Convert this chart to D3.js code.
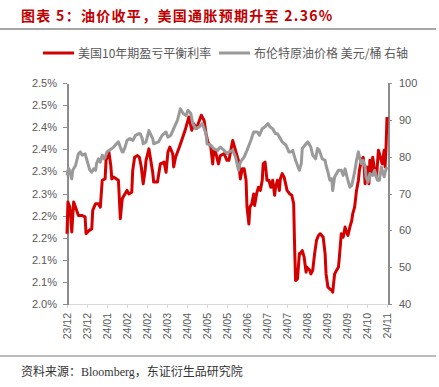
<!DOCTYPE html>
<html lang="zh">
<head>
    <meta charset="utf-8">
    <title>美国通胀预期</title>
    <script src="https://d3js.org/d3.v7.min.js"></script>
    <style>
        html, body {
            margin: 0;
            padding: 0;
            background: #fff;
        }
        text {
            font-family: "Liberation Sans", Arial, "Noto Sans CJK SC", sans-serif;
        }
        .axis text {
            fill: #595959;
            font-size: 11px;
        }
        .axis path, .axis line {
            shape-rendering: crispEdges;
        }
        path.line {
            fill: none;
            stroke-width: 3px;
            stroke-linejoin: round;
        }
    </style>
</head>
<body>
<script type="text/javascript">

    // breakeven 10y (left axis, %)
    var beDates = ["2023-12-06","2023-12-07","2023-12-09","2023-12-11","2023-12-13","2023-12-15","2023-12-18","2023-12-22","2023-12-25","2023-12-26","2023-12-29",
        "2024-01-01","2024-01-02","2024-01-05","2024-01-08","2024-01-10","2024-01-12","2024-01-15","2024-01-16","2024-01-19","2024-01-21","2024-01-22","2024-01-24","2024-01-27","2024-01-29","2024-01-31",
        "2024-02-02","2024-02-04","2024-02-07","2024-02-09","2024-02-12","2024-02-13","2024-02-15","2024-02-18","2024-02-20","2024-02-22","2024-02-24","2024-02-26","2024-02-27",
        "2024-03-01","2024-03-05","2024-03-06","2024-03-10","2024-03-13","2024-03-17","2024-03-19","2024-03-21","2024-03-23","2024-03-26","2024-03-27","2024-03-29",
        "2024-04-02","2024-04-05","2024-04-08","2024-04-10","2024-04-12","2024-04-15","2024-04-17","2024-04-20","2024-04-23","2024-04-25","2024-04-28","2024-04-30",
        "2024-05-02","2024-05-05","2024-05-07","2024-05-08","2024-05-10","2024-05-13","2024-05-15","2024-05-19","2024-05-22","2024-05-24","2024-05-28","2024-05-31",
        "2024-06-03","2024-06-05","2024-06-07","2024-06-09","2024-06-11","2024-06-12","2024-06-14","2024-06-15","2024-06-17","2024-06-19","2024-06-20","2024-06-22","2024-06-24","2024-06-26","2024-06-28","2024-06-29",
        "2024-07-01","2024-07-03","2024-07-05","2024-07-07","2024-07-09","2024-07-11","2024-07-12","2024-07-14","2024-07-16","2024-07-17","2024-07-19","2024-07-21","2024-07-23","2024-07-24","2024-07-27","2024-07-29","2024-07-31",
        "2024-08-01","2024-08-02","2024-08-04","2024-08-06","2024-08-07","2024-08-09","2024-08-11","2024-08-13","2024-08-14","2024-08-17","2024-08-18","2024-08-20","2024-08-22","2024-08-24","2024-08-26","2024-08-28","2024-08-31",
        "2024-09-02","2024-09-03","2024-09-05","2024-09-07","2024-09-09","2024-09-10","2024-09-12","2024-09-14","2024-09-16","2024-09-17","2024-09-19","2024-09-21","2024-09-23","2024-09-24","2024-09-26","2024-09-28","2024-09-30",
        "2024-10-01","2024-10-03","2024-10-05","2024-10-07","2024-10-08","2024-10-10","2024-10-12","2024-10-13","2024-10-14","2024-10-16","2024-10-18","2024-10-19","2024-10-21","2024-10-22","2024-10-24","2024-10-26","2024-10-28","2024-10-30",
        "2024-11-01","2024-11-03","2024-11-04","2024-11-05","2024-11-06"];
    var beValues = [2.159,2.231,2.219,2.163,2.231,2.219,2.200,2.200,2.197,2.159,2.166,
        2.170,2.212,2.227,2.227,2.219,2.280,2.283,2.325,2.344,2.313,2.283,2.287,2.283,2.280,2.193,
        2.238,2.246,2.257,2.249,2.253,2.302,2.332,2.336,2.332,2.310,2.272,2.302,2.325,
        2.351,2.298,2.276,2.276,2.317,2.321,2.298,2.344,2.355,2.340,2.310,2.332,
        2.355,2.374,2.393,2.408,2.423,2.393,2.408,2.397,2.415,2.427,2.415,2.385,
        2.366,2.355,2.317,2.347,2.344,2.317,2.336,2.340,2.325,2.325,2.370,2.347,
        2.325,2.283,2.306,2.306,2.280,2.219,2.181,2.219,2.227,2.249,2.223,2.249,2.264,2.257,2.280,2.317,
        2.321,2.280,2.280,2.264,2.280,2.246,2.264,2.280,2.257,2.283,2.295,2.287,2.268,2.257,2.249,2.246,2.227,
        2.129,2.053,2.057,2.114,2.114,2.121,2.106,2.072,2.083,2.076,2.068,2.076,2.114,2.144,2.155,2.159,2.151,
        2.114,2.068,2.038,2.034,2.031,2.027,2.068,2.076,2.083,2.106,2.159,2.151,2.174,2.166,2.155,2.174,2.189,
        2.204,2.219,2.257,2.280,2.302,2.325,2.332,2.310,2.272,2.310,2.272,2.325,2.295,2.332,2.302,2.287,2.348,2.332,
        2.317,2.348,2.310,2.355,2.423];

    // brent (right axis, USD/bbl)
    var brentDates = ["2023-12-06","2023-12-07","2023-12-08","2023-12-11","2023-12-12","2023-12-15","2023-12-18","2023-12-20","2023-12-22","2023-12-25","2023-12-28","2023-12-30",
        "2024-01-01","2024-01-03","2024-01-05","2024-01-06","2024-01-08","2024-01-10","2024-01-12","2024-01-14","2024-01-15","2024-01-17","2024-01-19","2024-01-22","2024-01-24","2024-01-27","2024-01-29","2024-01-31",
        "2024-02-02","2024-02-03","2024-02-05","2024-02-07","2024-02-10","2024-02-13","2024-02-16","2024-02-19","2024-02-21","2024-02-23","2024-02-24","2024-02-27",
        "2024-03-01","2024-03-05","2024-03-06","2024-03-11","2024-03-15","2024-03-19","2024-03-21","2024-03-24","2024-03-27","2024-03-31",
        "2024-04-03","2024-04-06","2024-04-09","2024-04-11","2024-04-14","2024-04-16","2024-04-19","2024-04-23","2024-04-26","2024-04-30",
        "2024-05-01","2024-05-05","2024-05-08","2024-05-12","2024-05-15","2024-05-19","2024-05-22","2024-05-24","2024-05-28","2024-05-31",
        "2024-06-03","2024-06-05","2024-06-09","2024-06-12","2024-06-16","2024-06-19","2024-06-23","2024-06-25","2024-06-28",
        "2024-07-01","2024-07-04","2024-07-06","2024-07-09","2024-07-12","2024-07-14","2024-07-17","2024-07-19","2024-07-23","2024-07-26","2024-07-28","2024-07-30",
        "2024-08-02","2024-08-04","2024-08-06","2024-08-08","2024-08-09","2024-08-13","2024-08-15","2024-08-18","2024-08-20","2024-08-23","2024-08-25","2024-08-27","2024-08-30",
        "2024-09-02","2024-09-03","2024-09-05","2024-09-07","2024-09-09","2024-09-10","2024-09-12","2024-09-16","2024-09-19","2024-09-21","2024-09-23","2024-09-25","2024-09-28","2024-09-30",
        "2024-10-03","2024-10-05","2024-10-07","2024-10-08","2024-10-10","2024-10-12","2024-10-14","2024-10-15","2024-10-17","2024-10-19","2024-10-22","2024-10-24","2024-10-27","2024-10-29","2024-10-31",
        "2024-11-03","2024-11-04","2024-11-06"];
    var brentValues = [74.9,76.3,76.7,74.0,76.3,77.6,80.8,81.3,80.4,80.8,78.1,76.3,
        75.8,76.7,76.3,78.1,79.4,78.5,80.4,79.4,79.9,81.3,81.7,82.2,82.6,83.5,84.0,82.6,
        81.3,81.3,82.6,84.4,84.9,84.4,85.8,86.2,86.2,84.9,83.5,84.0,
        87.1,84.9,83.5,84.0,85.8,86.7,85.3,85.8,87.6,89.9,
        93.0,91.7,91.2,92.6,91.7,89.0,87.6,88.1,89.0,86.2,
        83.5,83.1,82.2,81.7,82.6,81.7,80.8,81.3,81.7,79.9,
        76.3,78.5,79.9,81.7,84.4,86.7,86.7,85.8,87.6,
        88.1,89.0,88.1,87.6,86.2,86.2,84.9,84.0,83.1,81.3,81.3,81.7,
        79.0,77.6,76.3,78.1,82.2,83.5,84.0,82.6,80.4,79.4,82.2,81.7,79.4,
        79.0,77.6,75.8,73.6,74.0,70.8,74.5,76.3,76.3,74.9,76.7,74.5,71.7,72.2,
        75.8,79.0,81.3,79.9,78.1,79.0,77.2,74.5,73.1,75.4,74.9,76.3,73.6,73.6,77.2,
        74.5,75.8,77.2];

    var tickDates = ["2023-12-06","2023-12-27","2024-01-17","2024-02-07","2024-02-28","2024-03-20","2024-04-10","2024-05-01","2024-05-22",
        "2024-06-12","2024-07-03","2024-07-24","2024-08-14","2024-09-04","2024-09-25","2024-10-16","2024-11-06"];
    var leftTicks = [2.0,2.05,2.1,2.15,2.2,2.25,2.3,2.35,2.4,2.45,2.5];
    var leftLabels = ["2.0%","2.1%","2.1%","2.2%","2.2%","2.3%","2.3%","2.4%","2.4%","2.5%","2.5%"];
    var rightTicks = [40,50,60,70,80,90,100];

    var title = "图表 5：油价收平，美国通胀预期升至 2.36%";
    var legendNames = ["美国10年期盈亏平衡利率", "布伦特原油价格 美元/桶 右轴"];
    var source = "资料来源：Bloomberg，东证衍生品研究院";

    var w = 439, h = 387;
    var padL = 67, padR = 388, padT = 83, padB = 304;

    var parse = d3.timeParse("%Y-%m-%d");
    var fmt = d3.timeFormat("%y/%m");

    var beData = beDates.map(function(d, i) { return {date: parse(d), v: beValues[i]}; });
    var brentData = brentDates.map(function(d, i) { return {date: parse(d), v: brentValues[i]}; });
    var ticks = tickDates.map(parse);

    var xScale = d3.scaleTime()
        .domain([ticks[0], ticks[ticks.length - 1]])
        .range([padL, padR - 1]);
    var yLeft = d3.scaleLinear().domain([2.0, 2.5]).range([padB, padT]);
    var yRight = d3.scaleLinear().domain([40, 100]).range([padB, padT]);

    var svg = d3.select("body").append("svg")
        .attr("width", w)
        .attr("height", h);

    // title and rules
    svg.append("text")
        .attr("x", 21).attr("y", 21)
        .attr("fill", "#c00000")
        .style("font-family", "'Noto Sans CJK SC', sans-serif")
        .style("font-size", "14px")
        .style("font-weight", "bold")
        .style("letter-spacing", "1.3px")
        .text(title);
    svg.append("line")
        .attr("x1", 0).attr("x2", 436).attr("y1", 29).attr("y2", 29)
        .attr("stroke", "#a6a6a6").attr("stroke-width", 2);
    svg.append("line")
        .attr("x1", 0).attr("x2", 436).attr("y1", 356).attr("y2", 356)
        .attr("stroke", "#a6a6a6").attr("stroke-width", 1.5);
    svg.append("text")
        .attr("x", 21).attr("y", 376)
        .attr("fill", "#333")
        .style("font-family", "'Liberation Serif', 'Noto Sans CJK SC', serif")
        .style("font-size", "12px")
        .text(source);

    // legend
    var legend = svg.append("g").attr("transform", "translate(0,53)");
    var legendColors = ["#d40000", "#9a9a9a"];
    var legendX = [43, 219];
    legendNames.forEach(function(name, i) {
        legend.append("line")
            .attr("x1", legendX[i]).attr("x2", legendX[i] + 31)
            .attr("y1", 0).attr("y2", 0)
            .attr("stroke", legendColors[i]).attr("stroke-width", 3);
        legend.append("text")
            .attr("x", legendX[i] + 35).attr("y", 4.5)
            .attr("fill", "#595959")
            .style("font-family", "'Noto Sans CJK SC', sans-serif")
            .style("font-size", "12px")
            .text(name);
    });

    // axes
    var xAxis = d3.axisBottom(xScale)
        .tickValues(ticks)
        .tickFormat(fmt)
        .tickSize(4)
        .tickSizeOuter(0);
    var gx = svg.append("g")
        .attr("class", "axis")
        .attr("transform", "translate(0," + padB + ")")
        .call(xAxis);
    gx.select(".domain").attr("stroke", "#d9d9d9").attr("stroke-width", 1.5);
    gx.selectAll(".tick line").attr("stroke", "#d9d9d9");
    gx.selectAll(".tick text")
        .attr("transform", "rotate(-90)")
        .attr("x", -9).attr("y", 0).attr("dy", "0.35em")
        .style("text-anchor", "end")
        .style("font-size", "10.5px");

    var gl = svg.append("g")
        .attr("class", "axis")
        .attr("transform", "translate(" + padL + ",0)")
        .call(d3.axisLeft(yLeft)
            .tickValues(leftTicks)
            .tickFormat(function(d, i) { return leftLabels[i]; })
            .tickSize(4)
            .tickSizeOuter(0));
    gl.select(".domain").attr("stroke", "#8c8c8c").attr("stroke-width", 2);
    gl.selectAll(".tick line").attr("stroke", "#8c8c8c");
    gl.selectAll(".tick text").attr("x", -10);

    var gr = svg.append("g")
        .attr("class", "axis")
        .attr("transform", "translate(" + padR + ",0)")
        .call(d3.axisRight(yRight)
            .tickValues(rightTicks)
            .tickSize(4)
            .tickSizeOuter(0));
    gr.select(".domain").attr("stroke", "#8c8c8c").attr("stroke-width", 2);
    gr.selectAll(".tick line").attr("stroke", "#8c8c8c");
    gr.selectAll(".tick text").attr("x", 11);

    // lines
    var beLine = d3.line()
        .x(function(d) { return xScale(d.date); })
        .y(function(d) { return yLeft(d.v); });
    var brentLine = d3.line()
        .x(function(d) { return xScale(d.date); })
        .y(function(d) { return yRight(d.v); });

    svg.append("path")
        .datum(beData)
        .attr("class", "line")
        .attr("stroke", "#d40000")
        .attr("d", beLine);
    svg.append("path")
        .datum(brentData)
        .attr("class", "line")
        .attr("stroke", "#9a9a9a")
        .attr("d", brentLine);

</script>
</body>
</html>
